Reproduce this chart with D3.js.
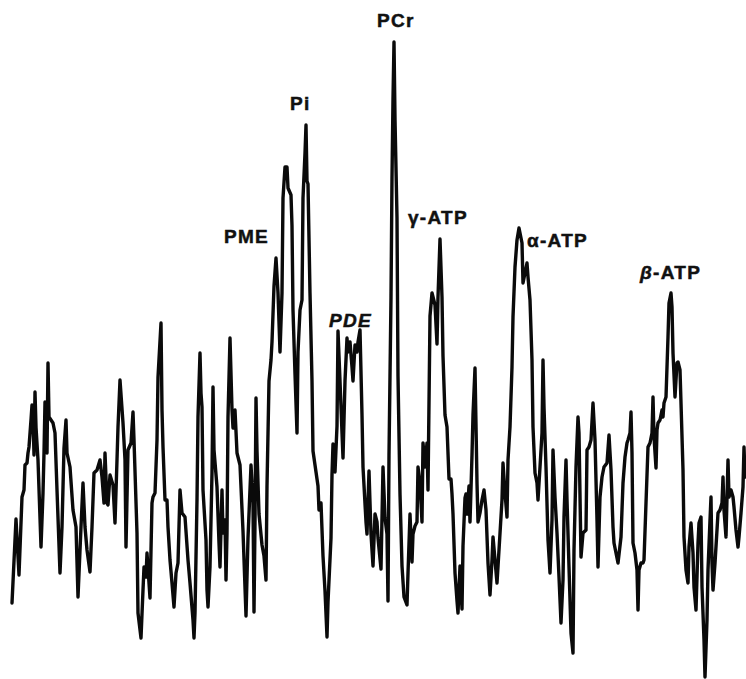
<!DOCTYPE html>
<html>
<head>
<meta charset="utf-8">
<script src="https://cdn.jsdelivr.net/npm/d3@7/dist/d3.min.js"></script>
<style>
  html, body { margin: 0; padding: 0; background: #fff; }
  svg { display: block; }
  .peak-label { font-family: "Liberation Sans", Arial, Helvetica, sans-serif; font-weight: bold; font-size: 19px; fill: #111; stroke: #111; stroke-width: 0.5px; letter-spacing: 1.3px; }
</style>
</head>
<body>
<svg id="chart" width="746" height="679"></svg>
<script>
// 31P MR spectrum: frequency offset from PCr (Hz) and signal (a.u.)
const freqHz = [
  574.5, 568.5, 564, 559.5, 556.5, 555, 552, 550.5, 549, 546, 544.5, 543, 541.5, 540, 538.5, 535.5, 531, 528, 526.5, 525,
  522, 520.5, 519, 513, 510, 507, 502.5, 499.5, 496.5, 493.5, 492, 487.5, 483, 478.5, 475.5, 471, 468, 465, 462, 457.5,
  454.5, 451.5, 447, 442.5, 439.5, 436.5, 435, 432, 430.5, 427.5, 423, 420, 417, 415.5,
  412.5, 408, 405, 403.5, 400.5, 396, 393, 391.5, 387, 385.5, 381, 378, 376.5, 373.5, 372, 367.5, 364.5, 363, 360, 357,
  355.5, 351, 349.5, 348, 345, 342, 340.5, 337.5, 334.5, 331.5, 328.5, 325.5, 322.5, 319.5, 315, 310.5, 307.5, 303, 301.5, 300,
  297, 295.5, 292.5, 291, 289.5, 288, 283.5, 282, 280.5, 277.5, 274.5, 273, 271.5, 267, 264, 262.5, 259.5, 258, 255, 253.5,
  252, 250.5, 247.5, 244.5, 243, 240, 237,
  232.5, 228, 223.5, 220.5, 216, 213, 211.5, 210, 208.5, 207, 204, 199.5, 196.5, 193.5, 192, 189, 186, 184.5, 181.5, 178.5,
  175.5, 172.5, 169.5, 168, 165, 162, 160.5, 156, 154.5, 153, 150, 147, 145.5, 142.5, 139.5, 138, 135, 133.5, 132, 130.5,
  127.5, 124.5, 123, 117, 115.5, 114, 111, 108, 105, 102, 100.5, 96, 94.5, 93, 90, 87, 85.5, 82.5, 79.5, 78,
  75, 72, 70.5, 67.5, 64.5, 63, 60, 57, 55.5, 52.5,
  49.5, 48, 43.5, 42, 39, 36, 33, 30, 27, 25.5, 21, 18, 15, 12, 10.5, 9, 6, 4.5, 3, 1.5,
  0, -3, -4.5, -7.5, -10.5, -13.5, -18, -19.5, -22.5, -25.5, -27, -30, -33, -34.5, -37.5, -40.5, -42, -45, -48, -49.5,
  -52.5, -55.5, -57, -60, -63, -64.5, -67.5, -70.5, -72, -75, -78, -81, -84, -85.5, -87, -90, -93, -94.5, -97.5, -100.5,
  -102, -105, -106.5, -108, -111, -112.5, -115.5, -117, -120, -123, -124.5,
  -127.5, -130.5, -133.5, -136.5, -139.5, -142.5, -145.5, -147, -150, -153, -156, -160.5, -162, -165, -168, -169.5, -172.5, -175.5, -177, -180,
  -183, -186, -190.5, -192, -195, -198, -199.5, -202.5, -205.5, -207, -210, -213, -214.5, -217.5, -220.5, -222, -223.5, -226.5, -229.5, -232.5,
  -235.5, -237, -240, -243, -246, -249, -252, -253.5, -256.5, -258, -261, -264, -267, -268.5, -271.5, -274.5, -276, -279, -282, -286.5,
  -288, -291, -294, -297, -300, -303, -304.5,
  -307.5, -310.5, -313.5, -318, -321, -324, -327, -328.5, -331.5, -334.5, -339, -342, -345, -348, -349.5, -352.5, -354, -355.5, -357, -360,
  -363, -364.5, -366, -369, -372, -373.5, -376.5, -379.5, -382.5, -385.5, -387, -388.5, -391.5, -393, -394.5, -397.5, -400.5, -402, -403.5, -406.5,
  -409.5, -411, -414, -415.5, -417, -420, -423, -424.5, -427.5, -429, -432, -433.5, -436.5, -439.5, -441, -444, -447, -448.5, -451.5, -454.5,
  -456, -459, -460.5, -463.5, -465, -468, -469.5, -472.5, -474, -475.5, -477, -480, -483, -484.5, -487.5, -490.5, -492, -493.5, -496.5, -499.5,
  -501, -504, -507, -508.5, -511.5, -514.5, -516, -519, -522, -523.5, -525
];
const signal = [
  -83, 1, -55, 23, 30, 55, 57, 67, 73, 100, 115, 103, 65, 128, 93, 60, -27, 27, 67, 118,
  67, 157, 103, 97, 87, 30, -53, -7, 72, 100, 67, 53, 10, -7, -77, -7, 37, -7, -30, -52,
  -7, 47, 50, 60, 43, 17, 67, 17, 15, 45, 35, -3, 60, 93,
  140, 97, 60, -27, 70, 77, 108, 80, -13, -93, -118, -70, -47, -57, -33, -78, 17, 23, 27, 80,
  143, 197, 110, 73, 20, 20, -7, -40, -63, -87, -53, -43, 30, 7, 3, -40, -63, -100, -118, -93,
  20, 103, 167, 127, 113, 30, -20, -70, -87, -47, 47, 133, 70, 33, -23, -47, 30, -13, 0, -60,
  -13, 103, 182, 110, 92, 110, 67,
  55, -11, -96, -18, 55, 17, -92, -1, 122, 69, 6, -25, -36, -60, 34, 139, 160, 178, 234, 262,
  227, 168, 227, 322, 353, 353, 332, 325, 294, 210, 146, 87, 168, 210, 220, 322, 367, 395, 339, 336,
  227, 139, 69, 41, 34, 10, 17, -36, -71, -117, -82, -18, 45, 76, 48, 94, 189, 139, 87, 62,
  139, 182, 168, 178, 153, 139, 175, 168, 178, 190,
  105, 53, -2, -14, 49, -14, -46, 6, -2, -18, -49, 53, 2, -14, -81, 65, 223, 342, 421, 478,
  401, 302, 144, 26, -46, -77, -85, -53, 6, -42, -14, -6, -2, 53, 37, -2, 77, 53, 77, 30,
  204, 227, 223, 215, 176, 223, 281, 223, 164, 105, 93, 41, 41, 26, 6, -53, -81, -93, -46, -89,
  -26, 22, 26, 6, 34, -2, 65, 105, 152, 37, -2,
  7, 20, 30, 10, -43, -75, -40, -17, -40, -63, -30, 20, 57, 27, 3, 60, 93, 153, 203, 253,
  280, 292, 277, 237, 247, 257, 243, 220, 160, 93, 47, 37, 20, 53, 87, 160, 113, 53, -20, -53,
  0, 70, 23, -13, -57, -103, -60, 3, 60, 20, -47, -113, -133, -30, 53, 103, 87, -37, -13, -10,
  70, 73, 80, 117, 80, 0, -47,
  23, 43, 53, 57, 85, 50, -7, -23, -33, -43, -17, 37, 63, 77, 80, 87, 108, 67, -23, -33,
  -50, -90, -50, -43, -43, -40, 17, 73, 77, 87, 123, 83, 52, 90, 97, 100, 110, 103, 117, 123,
  183, 217, 227, 213, 167, 123, 157, 158, 150, 117, 50, -17, -50, -63, -27, -3, -33, -67, -90, -23,
  -3, 3, -67, -120, -157, -100, -50, 0, 23, -43, -70, -43, -10, 7, 10, 17, 43, 10, -17, 60,
  23, 30, 23, 13, -10, -27, -17, 7, 33, 73, 43
];

// Resonance labels, placed in the same frequency / signal units
const peakNames = ["PME", "Pi", "PDE", "PCr", "γ-ATP", "α-ATP", "β-ATP"];
const labelFreqHz = [256.5, 157.5, 99, 27, -19.5, -198, -367.5];
const labelSignal = [277, 410, 193, 493, 296, 273, 241];

const svg = d3.select("#chart");

// NMR convention: frequency decreases to the right
const x = d3.scaleLinear().domain([592.5, -525]).range([0, 745]);
const y = d3.scaleLinear().domain([-160, 520]).range([680, 0]);

const points = freqHz.map((f, i) => [f, signal[i]]);

const line = d3.line()
  .x(d => x(d[0]))
  .y(d => y(d[1]));

svg.append("path")
  .datum(points)
  .attr("d", line)
  .attr("fill", "none")
  .attr("stroke", "#0a0a0a")
  .attr("stroke-width", 3.4)
  .attr("stroke-linejoin", "round")
  .attr("stroke-linecap", "round");

const labels = svg.append("g");
peakNames.forEach((name, i) => {
  const t = labels.append("text")
    .attr("class", "peak-label")
    .attr("x", x(labelFreqHz[i]))
    .attr("y", y(labelSignal[i]));
  if (name === "PDE") {
    t.style("font-style", "italic").text(name);
  } else if (name.startsWith("β")) {
    t.append("tspan").style("font-style", "italic").text("β");
    t.append("tspan").text(name.slice(1));
  } else {
    t.text(name);
  }
});
</script>
</body>
</html>
